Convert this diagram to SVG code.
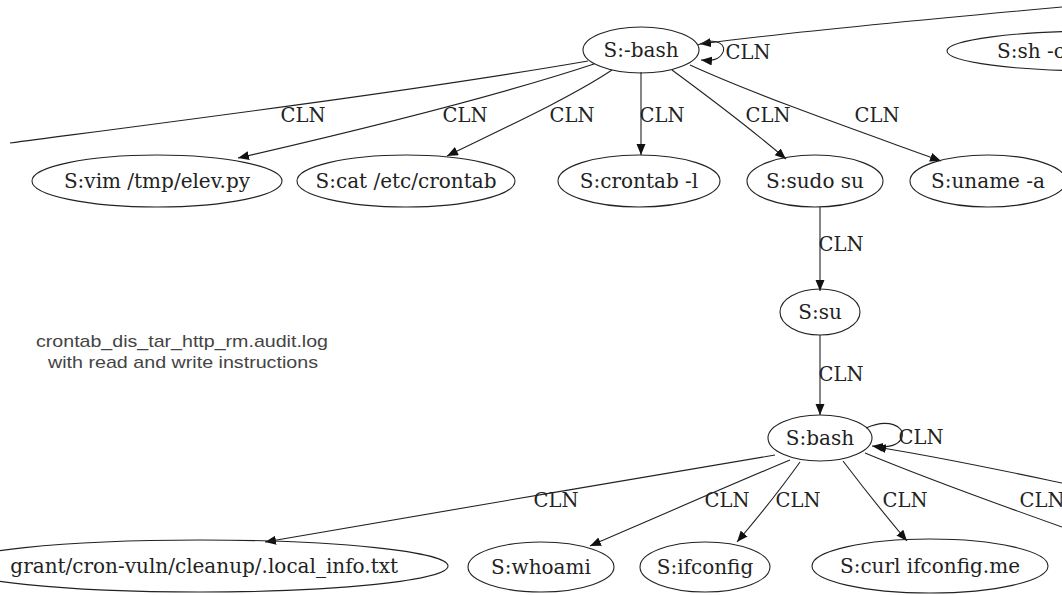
<svg xmlns="http://www.w3.org/2000/svg" width="1062" height="595" viewBox="0 0 1062 595">
<defs>
<style>
.n ellipse{fill:none;stroke:#222;stroke-width:1.1}
.n text{font-family:"DejaVu Serif","Liberation Serif",serif;font-size:20px;fill:#222;text-anchor:middle}
.e path{fill:none;stroke:#222;stroke-width:1.1}
.e .a{marker-end:url(#arr)}
.lbl{font-family:"DejaVu Serif","Liberation Serif",serif;font-size:19.5px;fill:#222;text-anchor:middle}
.note{font-family:"Liberation Sans",Arial,sans-serif;font-size:17px;fill:#444;text-anchor:middle}
</style>
<marker id="arr" markerUnits="userSpaceOnUse" markerWidth="12" markerHeight="10" refX="11" refY="4.5" orient="auto">
<path d="M0,0 L11,4.5 L0,9 Z" fill="#111"/>
</marker>
</defs>
<rect width="1062" height="595" fill="#fff"/>
<g id="connectors" class="e">
<path class="a" d="M1062,7 C940,18 790,32 700,44"/>
<path class="a" d="M698,45 C718,36 728,46 722,54 C718,60 712,61 701,60"/>
<path d="M588,61 C420,90 200,118 10,143"/>
<path class="a" d="M594,64 C500,95 360,130 238,158"/>
<path class="a" d="M612,70 C570,98 500,130 447,156"/>
<path class="a" d="M641,72 L641,155"/>
<path class="a" d="M672,70 C710,98 750,128 786,159"/>
<path class="a" d="M690,65 C760,97 870,135 941,161"/>
<path class="a" d="M820,207 L820,291"/>
<path class="a" d="M820,335 L820,415"/>
<path class="a" d="M866,428 C888,418 905,426 902,437 C899,446 888,448 872,446"/>
<path class="a" d="M1062,483 C1000,470 930,455 875,447"/>
<path d="M865,453 C930,480 1000,505 1062,527"/>
<path class="a" d="M775,455 C620,480 400,520 265,542"/>
<path class="a" d="M790,460 C730,485 650,520 590,546"/>
<path class="a" d="M800,462 C780,490 760,515 737,542"/>
<path class="a" d="M843,461 C865,490 885,515 907,541"/>
</g>
<g class="lbl">
<text x="748" y="59">CLN</text>
<text x="303" y="122">CLN</text>
<text x="465" y="122">CLN</text>
<text x="572" y="122">CLN</text>
<text x="662" y="122">CLN</text>
<text x="768" y="122">CLN</text>
<text x="877" y="122">CLN</text>
<text x="841" y="251">CLN</text>
<text x="841" y="381">CLN</text>
<text x="921" y="444">CLN</text>
<text x="556" y="507">CLN</text>
<text x="727" y="507">CLN</text>
<text x="798" y="507">CLN</text>
<text x="905" y="507">CLN</text>
<text x="1042" y="507">CLN</text>
</g>
<g id="n-bash0" class="n"><ellipse cx="641" cy="50" rx="58" ry="23"/><text x="641" y="57">S:-bash</text></g>
<g id="n-sh" class="n"><ellipse cx="1100" cy="51" rx="153" ry="20"/><text x="997" y="58" style="text-anchor:start">S:sh -c</text></g>
<g id="n-vim" class="n"><ellipse cx="157" cy="181" rx="125" ry="26"/><text x="157" y="188">S:vim /tmp/elev.py</text></g>
<g id="n-cat" class="n"><ellipse cx="406" cy="181" rx="109" ry="26"/><text x="406" y="188">S:cat /etc/crontab</text></g>
<g id="n-crontab" class="n"><ellipse cx="639" cy="181" rx="81" ry="26"/><text x="639" y="188">S:crontab -l</text></g>
<g id="n-sudo" class="n"><ellipse cx="815" cy="181" rx="68" ry="26"/><text x="815" y="188">S:sudo su</text></g>
<g id="n-uname" class="n"><ellipse cx="988" cy="181" rx="78" ry="26"/><text x="988" y="188">S:uname -a</text></g>
<g id="n-su" class="n"><ellipse cx="820" cy="312" rx="40" ry="23"/><text x="820" y="319">S:su</text></g>
<g id="n-bash" class="n"><ellipse cx="820" cy="438" rx="52" ry="23"/><text x="820" y="445">S:bash</text></g>
<g id="n-local" class="n"><ellipse cx="200" cy="566" rx="248" ry="26"/><text x="398" y="573" style="text-anchor:end">grant/cron-vuln/cleanup/.local_info.txt</text></g>
<g id="n-whoami" class="n"><ellipse cx="541" cy="567" rx="73" ry="25"/><text x="541" y="574">S:whoami</text></g>
<g id="n-ifconfig" class="n"><ellipse cx="705" cy="567" rx="65" ry="25"/><text x="705" y="574">S:ifconfig</text></g>
<g id="n-curl" class="n"><ellipse cx="930" cy="566" rx="118" ry="27"/><text x="930" y="573">S:curl ifconfig.me</text></g>
<g id="note">
<text class="note" x="182" y="347" textLength="292" lengthAdjust="spacingAndGlyphs">crontab_dis_tar_http_rm.audit.log</text>
<text class="note" x="183" y="368" textLength="270" lengthAdjust="spacingAndGlyphs">with read and write instructions</text>
</g>
</svg>
